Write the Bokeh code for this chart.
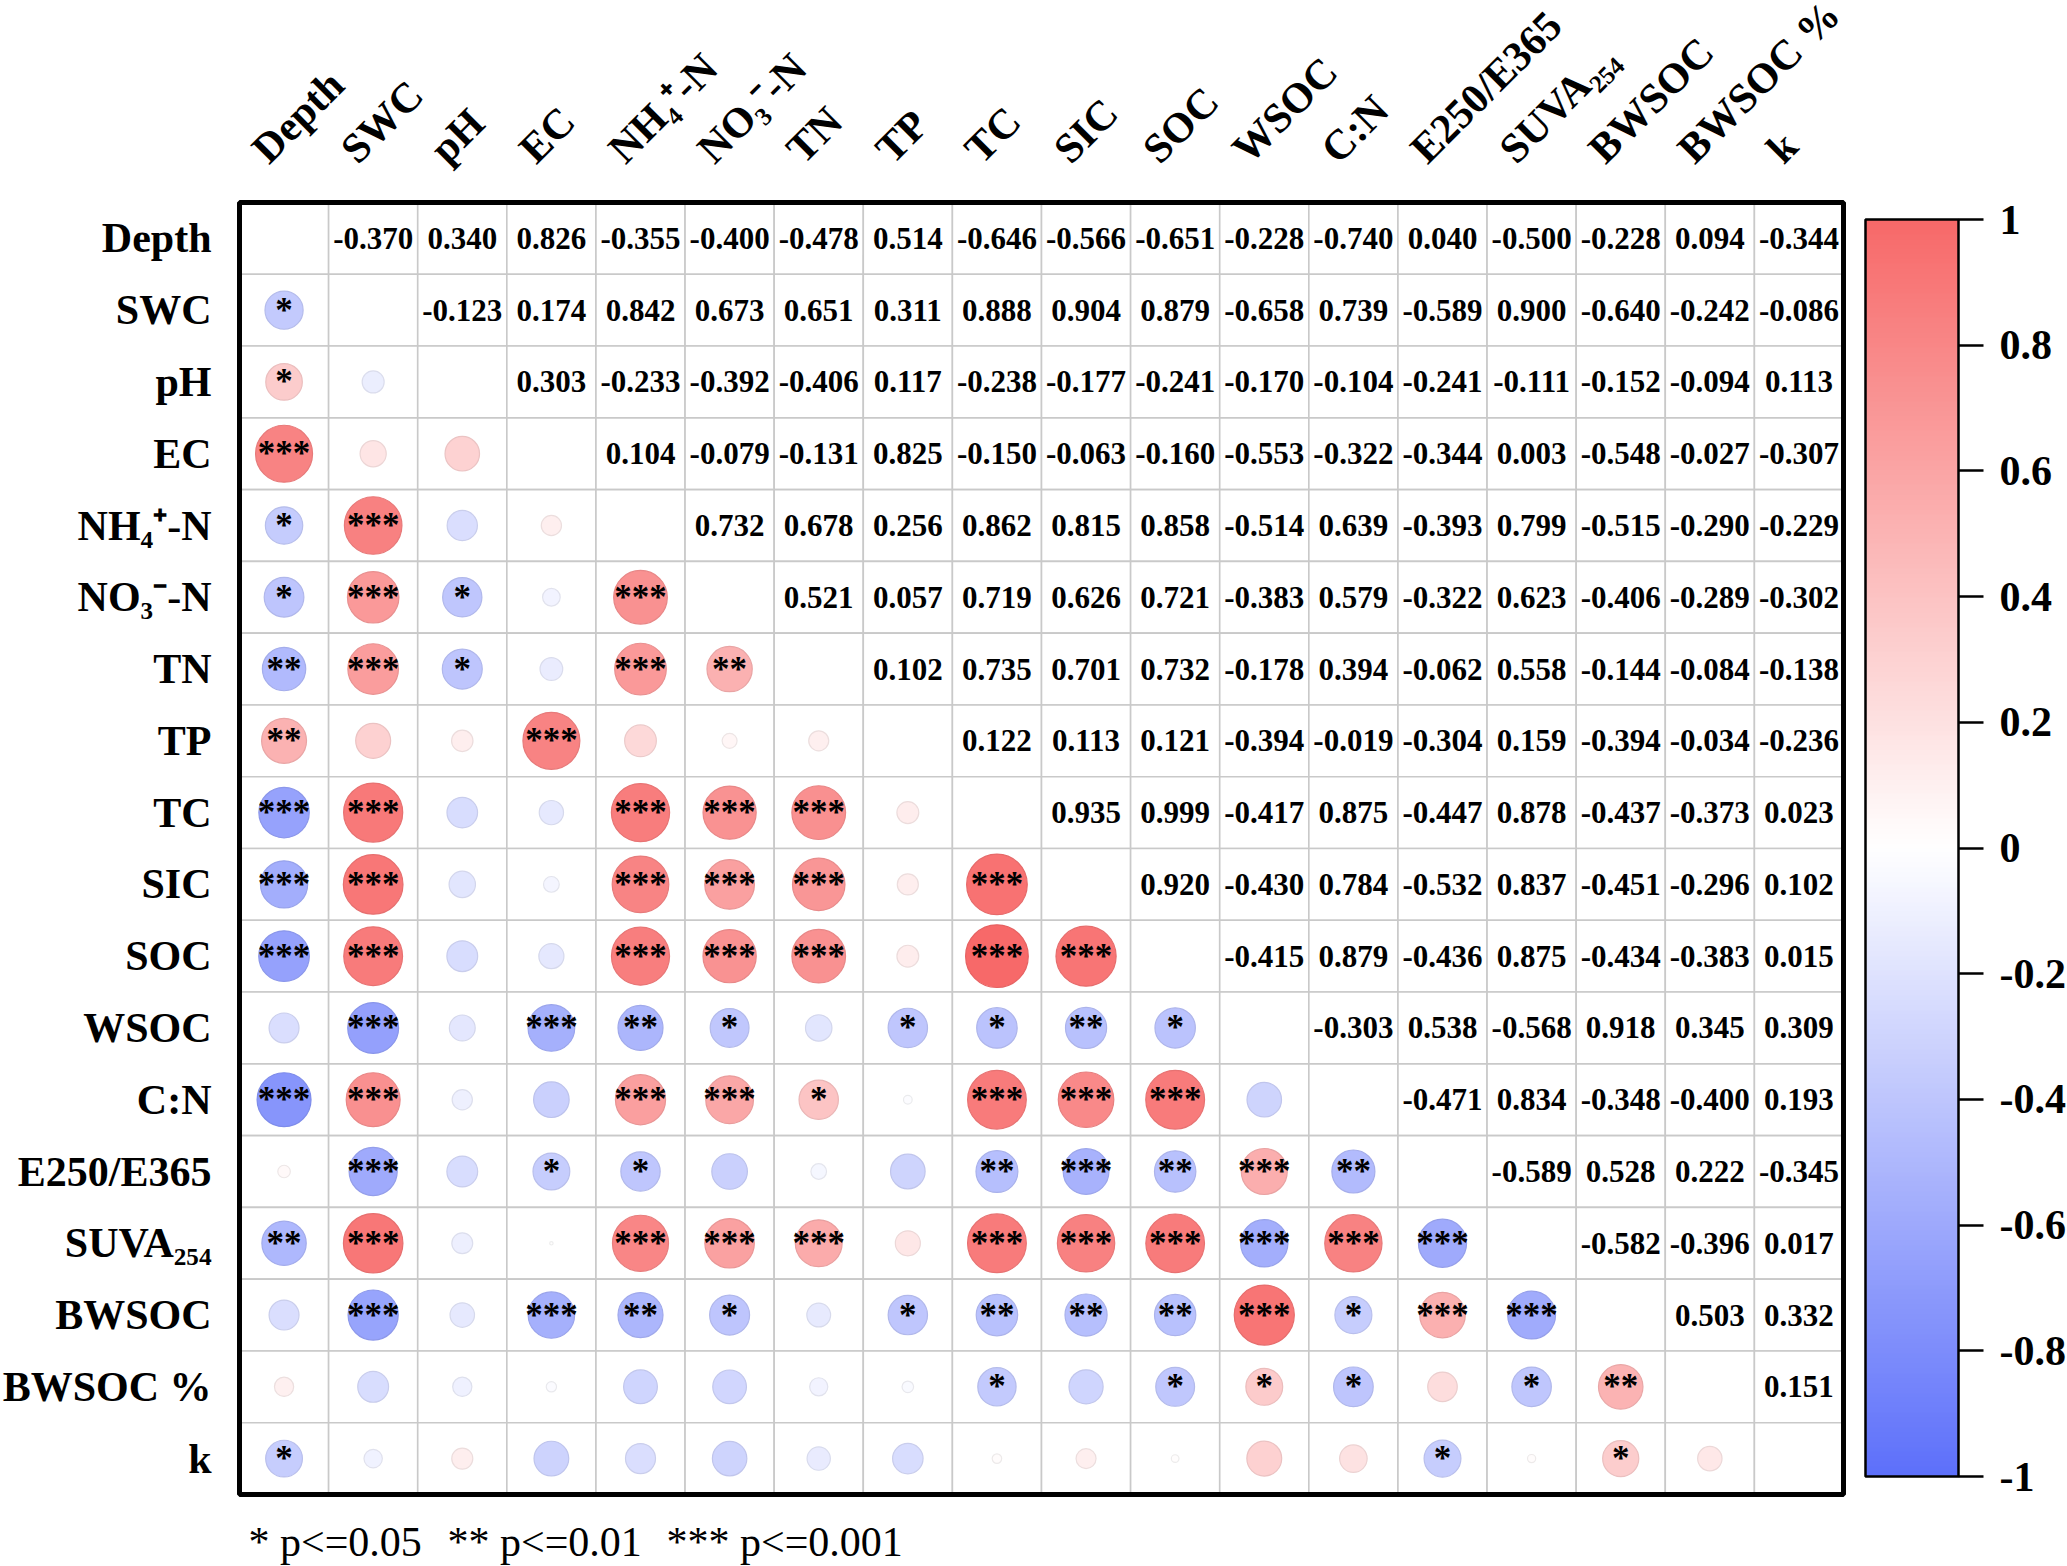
import math
from bokeh.plotting import figure
from bokeh.models import Range1d, ColumnDataSource, ColorBar, LinearColorMapper, FixedTicker, CustomJSTickFormatter
from bokeh.transform import linear_cmap
from bokeh.core.properties import value
from bokeh.embed import file_html
from bokeh.resources import INLINE

# ---------------- data ----------------
variables = ["Depth", "SWC", "pH", "EC", "NH\u2084\u207A-N", "NO\u2083\u207B-N", "TN", "TP", "TC",
             "SIC", "SOC", "WSOC", "C:N", "E250/E365", "SUVA\u2082\u2085\u2084", "BWSOC", "BWSOC %", "k"]

# upper triangle, row i holds correlations with columns i+1 .. 17
upper_values = [
    [-0.370, 0.340, 0.826, -0.355, -0.400, -0.478, 0.514, -0.646, -0.566, -0.651, -0.228, -0.740, 0.040, -0.500, -0.228, 0.094, -0.344],
    [-0.123, 0.174, 0.842, 0.673, 0.651, 0.311, 0.888, 0.904, 0.879, -0.658, 0.739, -0.589, 0.900, -0.640, -0.242, -0.086],
    [0.303, -0.233, -0.392, -0.406, 0.117, -0.238, -0.177, -0.241, -0.170, -0.104, -0.241, -0.111, -0.152, -0.094, 0.113],
    [0.104, -0.079, -0.131, 0.825, -0.150, -0.063, -0.160, -0.553, -0.322, -0.344, 0.003, -0.548, -0.027, -0.307],
    [0.732, 0.678, 0.256, 0.862, 0.815, 0.858, -0.514, 0.639, -0.393, 0.799, -0.515, -0.290, -0.229],
    [0.521, 0.057, 0.719, 0.626, 0.721, -0.383, 0.579, -0.322, 0.623, -0.406, -0.289, -0.302],
    [0.102, 0.735, 0.701, 0.732, -0.178, 0.394, -0.062, 0.558, -0.144, -0.084, -0.138],
    [0.122, 0.113, 0.121, -0.394, -0.019, -0.304, 0.159, -0.394, -0.034, -0.236],
    [0.935, 0.999, -0.417, 0.875, -0.447, 0.878, -0.437, -0.373, 0.023],
    [0.920, -0.430, 0.784, -0.532, 0.837, -0.451, -0.296, 0.102],
    [-0.415, 0.879, -0.436, 0.875, -0.434, -0.383, 0.015],
    [-0.303, 0.538, -0.568, 0.918, 0.345, 0.309],
    [-0.471, 0.834, -0.348, -0.400, 0.193],
    [-0.589, 0.528, 0.222, -0.345],
    [-0.582, -0.396, 0.017],
    [0.503, 0.332],
    [0.151],
]

# lower triangle significance marks, row i holds columns 0 .. i-1
lower_stars = [
    [],
    ["*"],
    ["*", ""],
    ["***", "", ""],
    ["*", "***", "", ""],
    ["*", "***", "*", "", "***"],
    ["**", "***", "*", "", "***", "**"],
    ["**", "", "", "***", "", "", ""],
    ["***", "***", "", "", "***", "***", "***", ""],
    ["***", "***", "", "", "***", "***", "***", "", "***"],
    ["***", "***", "", "", "***", "***", "***", "", "***", "***"],
    ["", "***", "", "***", "**", "*", "", "*", "*", "**", "*"],
    ["***", "***", "", "", "***", "***", "*", "", "***", "***", "***", ""],
    ["", "***", "", "*", "*", "", "", "", "**", "***", "**", "***", "**"],
    ["**", "***", "", "", "***", "***", "***", "", "***", "***", "***", "***", "***", "***"],
    ["", "***", "", "***", "**", "*", "", "*", "**", "**", "**", "***", "*", "***", "***"],
    ["", "", "", "", "", "", "", "", "*", "", "*", "*", "*", "", "*", "**"],
    ["*", "", "", "", "", "", "", "", "", "", "", "", "", "*", "", "*", ""],
]

cbar_ticks = [-1, -0.8, -0.6, -0.4, -0.2, 0, 0.2, 0.4, 0.6, 0.8, 1]
legend_labels = ["* p<=0.05", "** p<=0.01", "*** p<=0.001"]

# ---------------- layout / style ----------------
FIG_W, FIG_H = 2067, 1566
MAT_L, MAT_T = 239, 202
MAT_W, MAT_H = 1604, 1292
n = len(variables)
CW, CH = MAT_W / n, MAT_H / n
FONT_NAME = "Liberation Serif"
FONT = value(FONT_NAME)

RED = (247, 105, 105)
BLUE = (93, 112, 250)
WHITE = (255, 255, 255)


def make_palette(m=256, k=1.0):
    pal = []
    for t in range(m):
        f = t / (m - 1) * 2 - 1
        end = RED if f >= 0 else BLUE
        a = abs(f)
        c = [int(round((WHITE[q] + a * (end[q] - WHITE[q])) * k)) for q in range(3)]
        pal.append("#%02x%02x%02x" % tuple(c))
    return pal


palette = make_palette()
palette_dark = make_palette(k=0.93)

# full matrix
R = [[None] * n for _ in range(n)]
for i, row in enumerate(upper_values):
    for k, v in enumerate(row):
        j = i + 1 + k
        R[i][j] = v
        R[j][i] = v

p = figure(width=FIG_W, height=FIG_H,
           x_range=Range1d(-MAT_L / CW, (FIG_W - MAT_L) / CW),
           y_range=Range1d((FIG_H - MAT_T) / CH, -MAT_T / CH),
           toolbar_location=None, output_backend="svg", min_border=0,
           x_axis_location=None, y_axis_location=None)
p.outline_line_color = None
p.background_fill_color = "white"
p.border_fill_color = "white"
p.xgrid.visible = False
p.ygrid.visible = False

# cells
cx, cy = [], []
for i in range(n):
    for j in range(n):
        cx.append(j + 0.5)
        cy.append(i + 0.5)
p.rect(x=cx, y=cy, width=1, height=1, fill_color="white", line_color="#c9c9c9", line_width=1.6)

# numbers (upper triangle)
nx, ny, nt = [], [], []
for i in range(n):
    for j in range(i + 1, n):
        nx.append(j + 0.5)
        ny.append(i + 0.5)
        nt.append("%.3f" % R[i][j])
p.text(x=nx, y=ny, text=nt, text_font=FONT, text_font_style="bold", text_font_size="31px",
       text_align="center", text_baseline="middle", text_color="black")

# circles (lower triangle)
ox, oy, orr, osz = [], [], [], []
for i in range(n):
    for j in range(i):
        ox.append(j + 0.5)
        oy.append(i + 0.5)
        orr.append(R[i][j])
        osz.append(62.7 * math.sqrt(abs(R[i][j])))
csrc = ColumnDataSource(dict(x=ox, y=oy, r=orr, size=osz))
p.scatter(x="x", y="y", size="size", source=csrc, marker="circle",
          fill_color=linear_cmap("r", palette, -1, 1),
          line_color=linear_cmap("r", palette_dark, -1, 1), line_width=1.2)

# stars
sx, sy, st = [], [], []
for i in range(n):
    for j, s in enumerate(lower_stars[i]):
        if s:
            sx.append(j + 0.5)
            sy.append(i + 0.5)
            st.append(s)
p.text(x=sx, y=sy, text=st, text_font=FONT, text_font_style="bold", text_font_size="35px",
       text_align="center", text_baseline="middle", text_color="black")

# outer frame
p.rect(x=[n / 2], y=[n / 2], width=n, height=n, fill_color=None, line_color="black", line_width=5)

# row labels
p.text(x=[-(MAT_L - 211) / CW] * n, y=[i + 0.5 for i in range(n)], text=variables,
       text_font=FONT, text_font_style="bold", text_font_size="42px",
       text_align="right", text_baseline="middle", text_color="black")

# column labels
p.text(x=[j + 0.5 - 25 / CW for j in range(n)], y=[-(MAT_T - 155) / CH] * n, text=variables,
       angle=math.pi / 4, text_font=FONT, text_font_style="bold", text_font_size="42px",
       text_align="left", text_baseline="alphabetic", text_color="black")

# legend of significance
leg_px = [248, 447, 666]
p.text(x=[(v - MAT_L) / CW for v in leg_px], y=[(1541 - MAT_T) / CH] * 3, text=legend_labels,
       text_font=FONT, text_font_size="42px", text_align="left", text_baseline="middle",
       text_color="black")

# color bar
mapper = LinearColorMapper(palette=palette, low=-1, high=1)
cb = ColorBar(color_mapper=mapper, location=(1865, FIG_H - 1476), width=93, height=1257,
              padding=0, margin=0, ticker=FixedTicker(ticks=cbar_ticks),
              formatter=CustomJSTickFormatter(code="return (Math.round(tick*10)/10).toString()"),
              major_tick_in=0, major_tick_out=25, major_tick_line_color="black", major_tick_line_width=2.5,
              minor_tick_line_color=None, bar_line_color="black", bar_line_width=2.5,
              label_standoff=16, major_label_text_font=FONT_NAME, major_label_text_font_style="bold",
              major_label_text_font_size="42px", major_label_text_color="black",
              background_fill_color=None, border_line_color=None)
p.add_layout(cb)

open("out.html", "w").write(file_html(p, INLINE))
